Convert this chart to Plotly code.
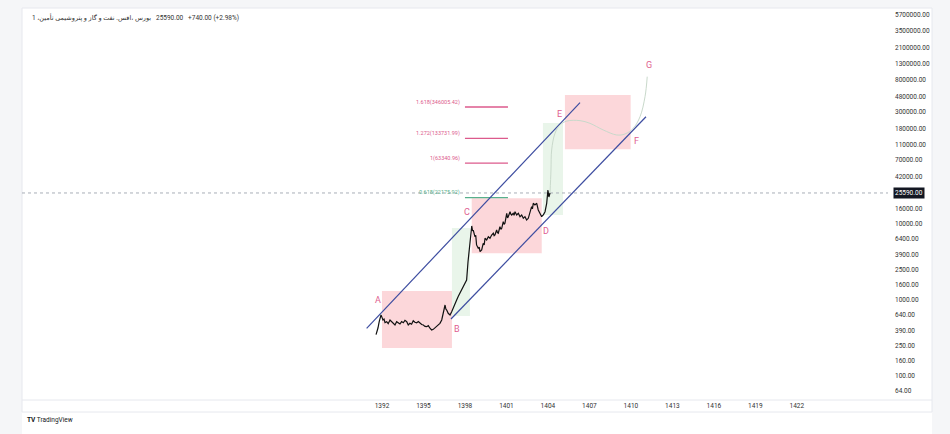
import numpy as np
import plotly.graph_objects as go

# ---------------- data ----------------
price_years = [1391.57, 1391.64, 1391.71, 1391.80, 1391.93, 1392.00, 1392.07, 1392.15, 1392.22, 1392.34,
               1392.45, 1392.58, 1392.70, 1392.82, 1392.94, 1393.06, 1393.18, 1393.30, 1393.42, 1393.54,
               1393.66, 1393.79, 1393.90, 1394.02, 1394.14, 1394.26, 1394.38, 1394.51, 1394.63, 1394.75,
               1394.87, 1394.99, 1395.11, 1395.23, 1395.35, 1395.47, 1395.59, 1395.71, 1395.83, 1395.96,
               1396.07, 1396.19, 1396.32, 1396.43, 1396.56, 1396.62, 1396.68, 1396.79, 1396.92, 1397.04,
               1397.16, 1397.28, 1397.40, 1397.52, 1397.64, 1397.76, 1397.88, 1398.00, 1398.12, 1398.22,
               1398.36, 1398.49, 1398.55, 1398.60, 1398.72, 1398.78, 1398.84, 1398.96, 1399.03, 1399.09,
               1399.21, 1399.32, 1399.39, 1399.45, 1399.57, 1399.63, 1399.69, 1399.81, 1399.87, 1399.93,
               1400.05, 1400.11, 1400.17, 1400.29, 1400.35, 1400.41, 1400.53, 1400.60, 1400.66, 1400.77,
               1400.83, 1400.89, 1401.02, 1401.08, 1401.13, 1401.26, 1401.32, 1401.38, 1401.49, 1401.55,
               1401.62, 1401.68, 1401.74, 1401.86, 1401.92, 1401.98, 1402.10, 1402.16, 1402.22, 1402.34,
               1402.40, 1402.46, 1402.58, 1402.64, 1402.70, 1402.82, 1402.88, 1402.94, 1403.06, 1403.12,
               1403.19, 1403.30, 1403.36, 1403.42, 1403.55, 1403.60, 1403.66, 1403.79, 1403.85, 1403.91,
               1404.00, 1404.07, 1404.15]
price_values = [350, 380, 428, 520, 635, 590, 546, 560, 505, 518,
                488, 546, 515, 502, 470, 518, 495, 483, 520, 502,
                540, 518, 470, 493, 480, 534, 510, 502, 520, 493,
                475, 469, 450, 446, 460, 425, 403, 411, 430, 446,
                470, 493, 546, 668, 859, 760, 738, 668, 635, 702,
                778, 905, 1000, 1120, 1225, 1380, 1497, 1650, 1833, 3160,
                6150, 9420, 8100, 8330, 6800, 7100, 5300, 4790, 4950, 4325,
                4550, 5570, 5300, 6490, 6150, 6600, 6800, 6490, 6900, 7160,
                7550, 7000, 7160, 8330, 7700, 7550, 9200, 8500, 8770, 10720,
                9900, 10210, 13830, 12000, 12480, 14520, 13500, 13130, 13830, 13000,
                14520, 13600, 13130, 13830, 12900, 12480, 13130, 12300, 11880, 12480,
                11800, 11290, 11880, 12800, 13830, 16900, 15800, 18720, 17780, 18300,
                18720, 15280, 14600, 13830, 12480, 12900, 13130, 14520, 16000, 18720,
                28010, 22650, 25590]

forecast_years = [1404.15, 1404.22, 1404.27, 1404.51, 1404.87, 1405.36, 1406.32, 1407.04,
                  1408.00, 1408.97, 1409.57, 1410.17, 1410.66, 1411.02, 1411.18]
forecast_values = [25590, 51400, 94200, 156000, 201000, 226000, 229000, 211000,
                   172600, 148300, 152800, 181600, 258000, 473000, 867000]

last_price = 25590
header_text = "بورس ،اقس. نفت و گاز و پتروشیمی تأمین، 1"
header_numbers = "25590.00   +740.00 (+2.98%)"

# pink boxes: (year0, year1, low, high)
pink_boxes = [(1392.00, 1397.06, 233, 1312),
              (1398.49, 1403.55, 4110, 21780),
              (1405.23, 1409.98, 96100, 498000)]
# green boxes
green_boxes = [(1397.06, 1398.36, 616, 8850),
               (1403.64, 1405.09, 13130, 213000)]

# channel lines: (year0, price0, year1, price1)
channel_upper = (1390.89, 424, 1406.32, 394500)
channel_lower = (1396.99, 562, 1411.09, 258000)

# fibonacci levels
fib_levels = [1.618, 1.272, 1.0, 0.618]
fib_prices = [346005.42, 133731.99, 63340.96, 22175.92]
fib_labels = ["1.618(346005.42)", "1.272(133731.99)", "1(63340.96)", "0.618(22175.92)"]
fib_colors = ["#dc5a8c", "#dc5a8c", "#dc5a8c", "#57b08c"]
fib_x = (1398.0, 1401.11)

# wave labels
wave_names = ["A", "B", "C", "D", "E", "F", "G"]
wave_years = [1391.71, 1397.42, 1398.15, 1403.86, 1404.87, 1410.37, 1411.31]
wave_prices = [1000, 415, 14390, 8090, 280000, 123600, 1236000]

x_ticks = [1392, 1395, 1398, 1401, 1404, 1407, 1410, 1413, 1416, 1419, 1422]
y_ticks = [64, 100, 160, 250, 390, 640, 1000, 1600, 2500, 3900, 6400, 10000, 16000,
           42000, 70000, 110000, 180000, 300000, 480000, 800000, 1300000, 2100000,
           3500000, 5700000]

x_range = [1365.97, 1428.59]
y_range_log = [1.684, 6.842]

# ---------------- figure ----------------
PINK = "#e0608f"
NAVY = "#3d4da0"
FONT = "Roboto, DejaVu Sans, sans-serif"

fig = go.Figure()

for (x0, x1, lo, hi) in green_boxes:
    fig.add_trace(go.Scatter(x=[x0, x1, x1, x0, x0], y=[lo, lo, hi, hi, lo], mode="lines",
                             fill="toself", fillcolor="rgba(76,175,80,0.12)",
                             line=dict(width=0), hoverinfo="skip", showlegend=False))
for (x0, x1, lo, hi) in pink_boxes:
    fig.add_trace(go.Scatter(x=[x0, x1, x1, x0, x0], y=[lo, lo, hi, hi, lo], mode="lines",
                             fill="toself", fillcolor="rgba(242,54,69,0.2)",
                             line=dict(width=0), hoverinfo="skip", showlegend=False))

# dotted last-price line
fig.add_trace(go.Scatter(x=x_range, y=[last_price, last_price], mode="lines",
                         line=dict(color="#a9aeb8", width=1, dash="dot"),
                         hoverinfo="skip", showlegend=False))

# fib lines
for p, c in zip(fib_prices, fib_colors):
    fig.add_trace(go.Scatter(x=list(fib_x), y=[p, p], mode="lines",
                             line=dict(color=c, width=1.3), hoverinfo="skip", showlegend=False))

# channel
for (xa, pa, xb, pb) in (channel_upper, channel_lower):
    fig.add_trace(go.Scatter(x=[xa, xb], y=[pa, pb], mode="lines",
                             line=dict(color=NAVY, width=1.2), hoverinfo="skip", showlegend=False))

# forecast path
fig.add_trace(go.Scatter(x=forecast_years, y=forecast_values, mode="lines",
                         line=dict(color="#c9d9cb", width=1, shape="spline", smoothing=1.0),
                         hoverinfo="skip", showlegend=False))

# price
fig.add_trace(go.Scatter(x=price_years, y=price_values, mode="lines",
                         line=dict(color="#111111", width=1.2), showlegend=False))

annotations = []
for n, xv, pv in zip(wave_names, wave_years, wave_prices):
    annotations.append(dict(x=xv, y=np.log10(pv), xref="x", yref="y", text=n, showarrow=False,
                            font=dict(family=FONT, size=9, color=PINK)))
for lbl, p, c in zip(fib_labels, fib_prices, fib_colors):
    annotations.append(dict(x=fib_x[0] - 0.2, y=np.log10(p), xref="x", yref="y", text=lbl,
                            showarrow=False, xanchor="right", yanchor="middle", yshift=5,
                            font=dict(family=FONT, size=5.5, color=c)))
# last price tag
annotations.append(dict(x=1, y=np.log10(last_price), xref="paper", yref="y", text="25590.00",
                        showarrow=False, xanchor="left", yanchor="middle", xshift=5,
                        bgcolor="#131722", borderpad=1,
                        font=dict(family=FONT, size=6.5, color="#ffffff")))
# header
annotations.append(dict(x=8 / 866, y=(400 - 18) / 392, xref="paper", yref="paper",
                        text=header_text + "\u200e   " + header_numbers, showarrow=False,
                        xanchor="left", yanchor="middle",
                        font=dict(family=FONT, size=6.5, color="#333333")))
# logo
annotations.append(dict(x=3 / 866, y=(400 - 420) / 392, xref="paper", yref="paper",
                        text="<b>TV</b> TradingView", showarrow=False,
                        xanchor="left", yanchor="middle",
                        font=dict(family=FONT, size=6.5, color="#131722")))

shapes = [
    dict(type="rect", xref="paper", yref="paper", x0=0, x1=910 / 866, y0=(400 - 434) / 392, y1=1,
         fillcolor="#ffffff", line=dict(width=0), layer="below"),
    dict(type="rect", xref="paper", yref="paper", x0=0, x1=910 / 866, y0=(400 - 412) / 392, y1=1,
         fillcolor="rgba(0,0,0,0)", line=dict(color="#e6e8ee", width=1), layer="below"),
    dict(type="line", xref="paper", yref="paper", x0=0, x1=910 / 866, y0=0, y1=0,
         line=dict(color="#e6e8ee", width=1), layer="below"),
]

fig.update_layout(
    width=950, height=434,
    margin=dict(l=22, r=62, t=8, b=34),
    paper_bgcolor="#f5f6f8",
    plot_bgcolor="rgba(0,0,0,0)",
    font=dict(family=FONT, size=7, color="#333333"),
    showlegend=False,
    annotations=annotations,
    shapes=shapes,
    xaxis=dict(range=x_range, tickvals=x_ticks, ticktext=[str(t) for t in x_ticks],
               showgrid=False, zeroline=False, showline=False, ticks="",
               tickfont=dict(family=FONT, size=6.5, color="#333333"), ticklabelstandoff=0,
               fixedrange=True),
    yaxis=dict(type="log", range=y_range_log, side="right", tickvals=y_ticks,
               ticktext=[f"{t:.2f}" for t in y_ticks], showgrid=False, zeroline=False,
               showline=False, ticks="", ticklabelstandoff=6,
               tickfont=dict(family=FONT, size=6.5, color="#333333"), fixedrange=True),
)

fig.write_html("out.html")
